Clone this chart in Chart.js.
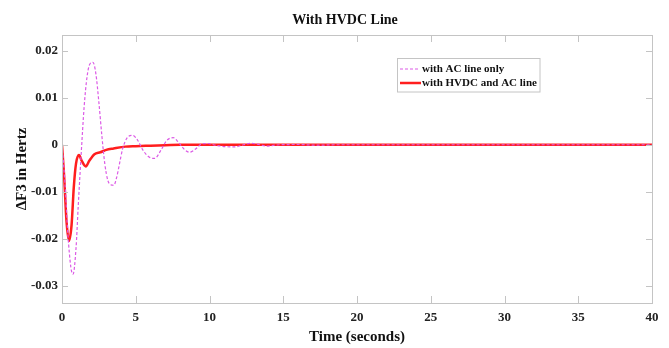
<!DOCTYPE html>
<html>
<head>
<meta charset="utf-8">
<script src="https://cdn.jsdelivr.net/npm/chart.js@4/dist/chart.umd.min.js"></script>
<style>
  html, body { margin:0; padding:0; background:#fff; }
  #wrap { width:669px; height:348px; }
</style>
</head>
<body>
<div id="wrap"><canvas id="chart"></canvas></div>
<script>
// === Datos ===
const chartTitle = 'With HVDC Line';
const xTitle = 'Time (seconds)';
const yTitle = '\u0394F3 in Hertz';
const seriesNames = ['with AC line only', 'with HVDC and AC line'];

const xTicks = [0, 5, 10, 15, 20, 25, 30, 35, 40];
const yTicks = [0.02, 0.01, 0, -0.01, -0.02, -0.03];
const yTickLabels = ['0.02', '0.01', '0', '-0.01', '-0.02', '-0.03'];

// solo linea AC
const acTime = [0, 0.2, 0.4, 0.6, 0.75, 0.95, 1.1, 1.3, 1.5, 1.7, 1.9, 2.1, 2.3, 2.5, 2.7, 2.9, 3.1, 3.3, 3.51,
  3.7, 3.9, 4.1, 4.4, 4.78, 5.1, 5.5, 5.9, 6.29, 6.7, 7.1, 7.54, 7.9, 8.3, 8.66, 9.1, 9.5, 9.9, 10.4, 11.1,
  11.7, 12.3, 12.85, 13.4, 13.9, 14.4, 14.8, 16, 17.3, 18.5, 40];
const acValues = [0, -0.008, -0.019, -0.026, -0.0275, -0.022, -0.013, -0.002, 0.008, 0.0145, 0.0172, 0.0175, 0.015,
  0.009, 0.002, -0.004, -0.0075, -0.0085, -0.0086, -0.007, -0.004, -0.001, 0.0014, 0.002, 0.0011, -0.0012,
  -0.0026, -0.0029, -0.0012, 0.0009, 0.0015, 0.0005, -0.001, -0.0016, -0.0008, 0.0002, 0.00026, -0.0001,
  -0.0004, -0.00047, 0.0, 0.0003, 0.0, -0.0003, -0.0001, 0, 0.00005, -0.0001, 0, 0];

// linea HVDC + AC
const hvdcTime = [0, 0.15, 0.3, 0.475, 0.65, 0.8, 0.95, 1.15, 1.35, 1.61, 1.85, 2.2, 2.6, 3.0, 3.5, 4.3, 5, 6, 7, 8, 40];
const hvdcValues = [0, -0.007, -0.016, -0.0204, -0.017, -0.009, -0.004, -0.0022, -0.0035, -0.0046, -0.0034,
  -0.002, -0.0016, -0.0011, -0.0008, -0.0004, -0.0003, -0.0002, -0.0001, 0, 0];

const acColor = '#dc5ae6';
const hvdcColor = '#ff1e1e';
const frameColor = '#c4c4c4';
const serif = '"Liberation Serif", "Times New Roman", serif';

function toPoints(xs, ys){
  return xs.map((x, i) => ({x: x, y: ys[i]}));
}

// marco, marcas internas, titulo y leyenda
const framePlugin = {
  id: 'frame',
  afterDraw(chart){
    const ctx = chart.ctx;
    const a = chart.chartArea;
    const xs = chart.scales.x, ys = chart.scales.y;
    ctx.save();
    ctx.strokeStyle = frameColor;
    ctx.lineWidth = 1;
    ctx.strokeRect(Math.round(a.left) + 0.5, Math.round(a.top) + 0.5,
      Math.round(a.right - a.left), Math.round(a.bottom - a.top));
    ctx.beginPath();
    xTicks.forEach(v => {
      const px = Math.round(xs.getPixelForValue(v)) + 0.5;
      ctx.moveTo(px, a.bottom); ctx.lineTo(px, a.bottom - 7);
      ctx.moveTo(px, a.top); ctx.lineTo(px, a.top + 7);
    });
    yTicks.forEach(v => {
      const py = Math.round(ys.getPixelForValue(v)) + 0.5;
      ctx.moveTo(a.left, py); ctx.lineTo(a.left + 6, py);
      ctx.moveTo(a.right, py); ctx.lineTo(a.right - 6, py);
    });
    ctx.stroke();

    // titulo
    ctx.fillStyle = '#111';
    ctx.font = 'bold 14px ' + serif;
    ctx.textAlign = 'center';
    ctx.textBaseline = 'middle';
    ctx.fillText(chartTitle, 345, 20);

    // leyenda
    const lx = 397.5, ly = 58.5, lw = 142.5, lh = 33.5;
    ctx.fillStyle = '#fff';
    ctx.fillRect(lx, ly, lw, lh);
    ctx.strokeStyle = frameColor;
    ctx.strokeRect(lx, ly, lw, lh);
    ctx.lineWidth = 1.2;
    ctx.strokeStyle = acColor;
    ctx.setLineDash([3, 2]);
    ctx.beginPath(); ctx.moveTo(400, 69); ctx.lineTo(420, 69); ctx.stroke();
    ctx.setLineDash([]);
    ctx.lineWidth = 2.5;
    ctx.strokeStyle = hvdcColor;
    ctx.beginPath(); ctx.moveTo(400, 83); ctx.lineTo(421, 83); ctx.stroke();
    ctx.fillStyle = '#111';
    ctx.font = 'bold 11px ' + serif;
    ctx.textAlign = 'left';
    ctx.fillText(seriesNames[0], 422, 69);
    ctx.fillText(seriesNames[1], 422, 83);
    ctx.restore();
  }
};

new Chart(document.getElementById('chart'), {
  type: 'line',
  data: {
    datasets: [
      {
        label: seriesNames[0],
        data: toPoints(acTime, acValues),
        borderColor: acColor,
        borderWidth: 1.2,
        borderDash: [3, 2],
        pointRadius: 0,
        cubicInterpolationMode: 'monotone',
        fill: false
      },
      {
        label: seriesNames[1],
        data: toPoints(hvdcTime, hvdcValues),
        borderColor: hvdcColor,
        borderWidth: 2.5,
        pointRadius: 0,
        cubicInterpolationMode: 'monotone',
        fill: false
      }
    ]
  },
  options: {
    responsive: true,
    maintainAspectRatio: false,
    animation: false,
    layout: {padding: {left: 0, right: 17, top: 35, bottom: 0}},
    plugins: {
      legend: {display: false},
      title: {display: false},
      tooltip: {enabled: false}
    },
    scales: {
      x: {
        type: 'linear',
        min: 0, max: 40,
        afterBuildTicks: s => { s.ticks = xTicks.map(v => ({value: v})); },
        afterFit: s => { s.height = 45; },
        grid: {display: false, drawTicks: false},
        border: {display: false},
        ticks: {color: '#222', padding: 7, font: {family: serif, size: 13, weight: 'bold'}, maxRotation: 0},
        title: {display: true, text: xTitle, color: '#111', padding: {top: 0, bottom: 2},
          font: {family: serif, size: 15, weight: 'bold'}}
      },
      y: {
        type: 'linear',
        min: -0.0336, max: 0.0233,
        afterBuildTicks: s => { s.ticks = yTicks.map(v => ({value: v})); },
        afterFit: s => { s.width = 62; },
        grid: {display: false, drawTicks: false},
        border: {display: false},
        ticks: {
          color: '#222', padding: 4,
          font: {family: serif, size: 13, weight: 'bold'},
          callback: (v) => { const i = yTicks.indexOf(v); return i >= 0 ? yTickLabels[i] : ''; }
        },
        title: {display: true, text: yTitle, color: '#111', padding: {top: 13, bottom: 0},
          font: {family: serif, size: 15, weight: 'bold'}}
      }
    }
  },
  plugins: [framePlugin]
});
</script>
</body>
</html>
